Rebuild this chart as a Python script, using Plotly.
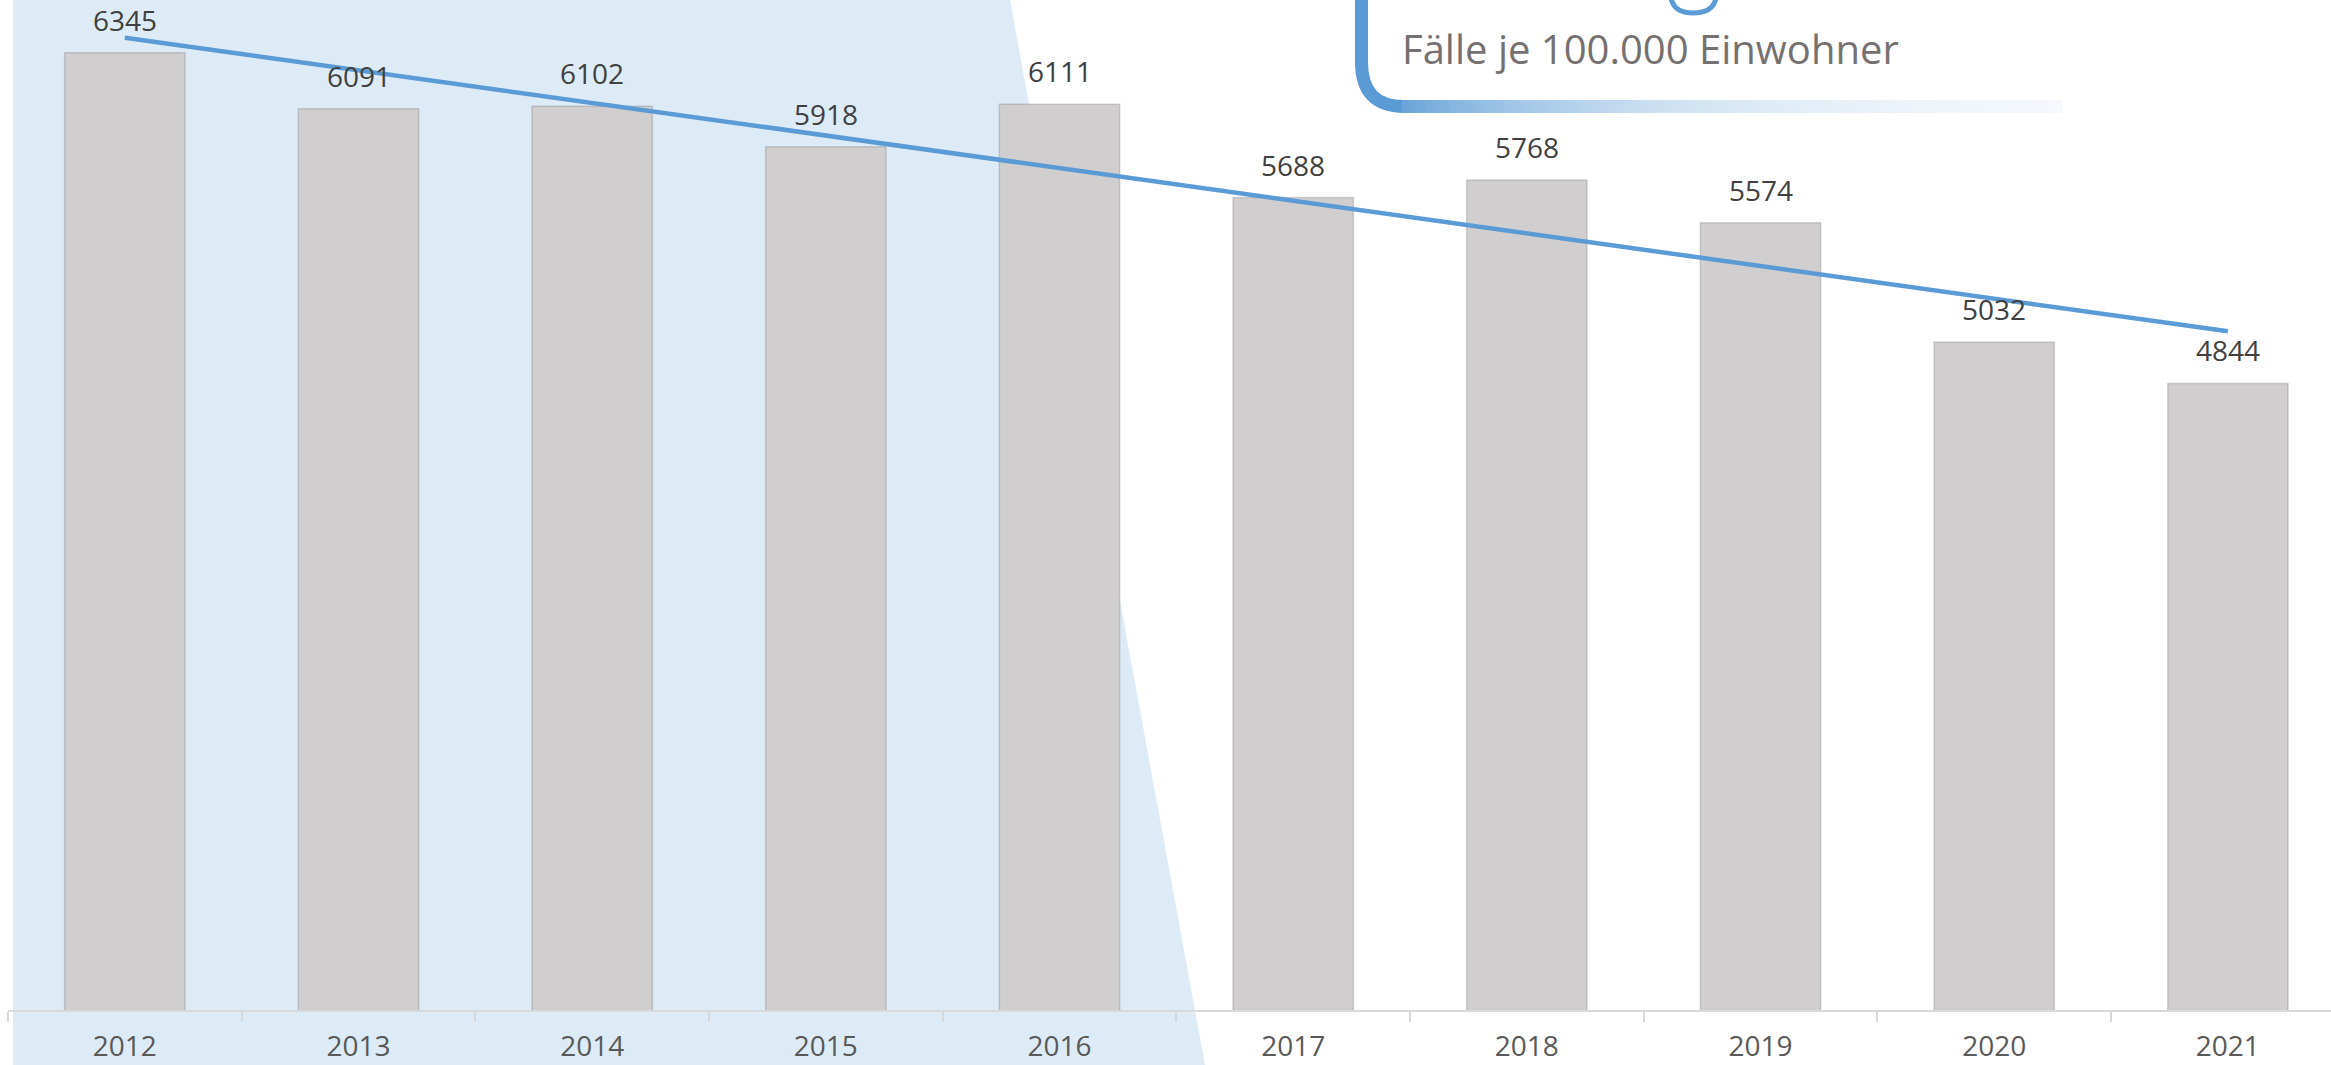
import numpy as np
import plotly.graph_objects as go

# ---------------- data ----------------
years = ["2012", "2013", "2014", "2015", "2016", "2017", "2018", "2019", "2020", "2021"]
values = [6345, 6091, 6102, 5918, 6111, 5688, 5768, 5574, 5032, 4844]
subtitle = "Fälle je 100.000 Einwohner"

# linear trend line computed from the data
idx = np.arange(len(values))
slope, intercept = np.polyfit(idx, values, 1)
trend = intercept + slope * idx

# ---------------- geometry helpers (decoration only) ----------------
W, H = 2331, 1065
L, R, T, B = 8, 0, 0, 55
PW, PH = W - L - R, H - T - B


def px(x):
    return (x - L) / PW


def py(y):
    return (H - B - y) / PH


BLUE = "#5B9BD5"

fig = go.Figure()
fig.add_bar(
    x=years,
    y=values,
    width=0.515,
    marker=dict(color="#D0CECF", line=dict(color="rgba(100,100,100,0.25)", width=1.5)),
    hoverinfo="x+y",
)
fig.add_scatter(
    x=[years[0], years[-1]],
    y=[trend[0], trend[-1]],
    mode="lines",
    line=dict(color=BLUE, width=4.5),
    hoverinfo="skip",
)

annotations = []
for i, v in enumerate(values):
    annotations.append(
        dict(
            x=i, y=v, xref="x", yref="y", text=str(v), showarrow=False,
            yanchor="bottom", yshift=12,
            font=dict(family="Open Sans", size=28, color="#404040"),
        )
    )

annotations.append(
    dict(
        x=px(1400), y=py(48), xref="paper", yref="paper", text=subtitle,
        showarrow=False, xanchor="left", yanchor="middle",
        font=dict(family="Open Sans", size=40, color="#767171"),
    )
)

shapes = []
# light blue background wedge
shapes.append(
    dict(
        type="path", xref="paper", yref="paper", layer="below",
        path=f"M {px(13)},{py(0)} L {px(1010)},{py(0)} L {px(1205)},{py(1065)} L {px(13)},{py(1065)} Z",
        fillcolor="#DDEBF7", line=dict(width=0),
    )
)
# rounded box: left side + corner
shapes.append(
    dict(
        type="path", xref="paper", yref="paper", layer="above",
        path=(f"M {px(1361.5)},{py(-20)} L {px(1361.5)},{py(62)} "
              f"Q {px(1361.5)},{py(106.5)} {px(1404)},{py(106.5)}"),
        line=dict(color=BLUE, width=13),
    )
)
# gradient bottom edge
x0 = 1402
step = 6
base = np.array([91, 155, 213])
while x0 < 2062:
    xc = x0 + step / 2
    a = float(np.exp(-(xc - 1380) / 240.0))
    col = base * a + 255 * (1 - a)
    shapes.append(
        dict(
            type="rect", xref="paper", yref="paper", layer="above",
            x0=px(x0), x1=px(x0 + step + 0.6), y0=py(113), y1=py(100),
            fillcolor=f"rgb({int(col[0])},{int(col[1])},{int(col[2])})",
            line=dict(width=0),
        )
    )
    x0 += step
# descender of the (cut off) title letter "g"
shapes.append(
    dict(
        type="path", xref="paper", yref="paper", layer="above",
        path=(f"M {px(1671)},{py(-2)} Q {px(1674)},{py(13)} {px(1693)},{py(13)} "
              f"Q {px(1713)},{py(13)} {px(1716)},{py(-2)}"),
        line=dict(color=BLUE, width=5),
    )
)

fig.update_layout(
    width=W,
    height=H,
    margin=dict(l=L, r=R, t=T, b=B, pad=0, autoexpand=False),
    paper_bgcolor="white",
    plot_bgcolor="rgba(0,0,0,0)",
    showlegend=False,
    annotations=annotations,
    shapes=shapes,
    xaxis=dict(
        type="category",
        range=[-0.5, -0.5 + PW / 233.67],
        showline=True, linecolor="#D9D9D9", linewidth=2,
        ticks="outside", tickson="boundaries", ticklen=10,
        tickcolor="#D9D9D9", tickwidth=2,
        ticklabelstandoff=10, automargin=False,
        tickfont=dict(family="Open Sans", size=28, color="#595959"),
        showgrid=False, zeroline=False, fixedrange=True,
    ),
    yaxis=dict(range=[2000, 2000 + PH / 0.2203], visible=False, fixedrange=True),
)

fig.write_html(
    "out.html",
    config={"displayModeBar": False},
    post_script="document.body.style.margin='0';document.body.style.overflow='hidden';",
)
